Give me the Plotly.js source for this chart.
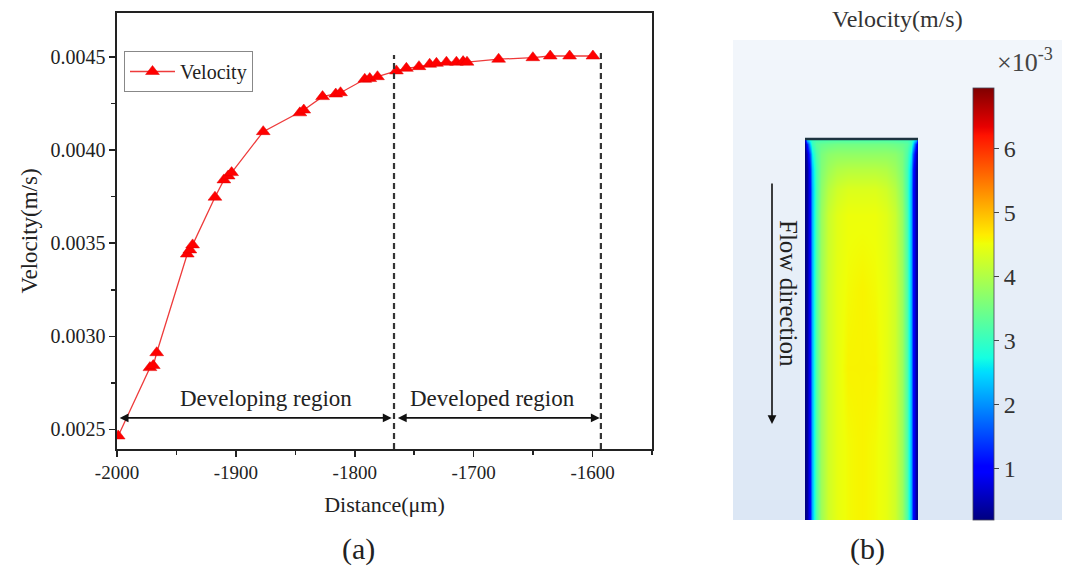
<!DOCTYPE html>
<html>
<head>
<meta charset="utf-8">
<script src="https://cdn.plot.ly/plotly-3.0.1.min.js"></script>
<style>html,body{margin:0;padding:0;background:#fff;}#chart{width:1067px;height:573px;}</style>
</head>
<body>
<div id="chart"></div>
<script>
// ---- Panel (a) data: velocity along the channel ----
const distance = [-1999, -1972.3, -1969.5, -1966.6, -1940.9, -1938.7, -1936.4, -1917.6,
  -1910.1, -1906.5, -1903.6, -1877, -1846.2, -1842.9, -1827.1, -1816, -1812,
  -1791.6, -1787.4, -1780.9, -1765, -1756.6, -1746, -1737, -1731.3, -1722.9,
  -1714.5, -1708.9, -1705.6, -1679, -1650.2, -1635.6, -1619.3, -1599.7];
const velocity = [0.002465, 0.002832, 0.002843, 0.002912, 0.003442, 0.003464, 0.003491, 0.003747,
  0.00384, 0.003861, 0.003879, 0.004099, 0.0042, 0.004215, 0.004287, 0.004301, 0.004308,
  0.00438, 0.004384, 0.004394, 0.004425, 0.004439, 0.004448, 0.004461, 0.004466, 0.004472,
  0.004472, 0.004475, 0.004472, 0.004488, 0.004496, 0.004505, 0.004505, 0.004505];
const seriesName = 'Velocity';
const xTickVals = [-2000, -1900, -1800, -1700, -1600];
const xTickText = ['-2000', '-1900', '-1800', '-1700', '-1600'];
const yTickVals = [0.0025, 0.0030, 0.0035, 0.0040, 0.0045];
const yTickText = ['0.0025', '0.0030', '0.0035', '0.0040', '0.0045'];
const regionBounds = [-2000, -1767, -1593];           // start, developing/developed boundary, end
const regionLabels = ['Developing region', 'Developed region'];
const xTitle = 'Distance(\u03bcm)';
const yTitle = 'Velocity(m/s)';

// ---- Panel (b) data: velocity field in the channel (x10^-3 m/s) ----
const fieldAcross = [0, 0.02, 0.04, 0.065, 0.095, 0.14, 0.2, 0.28, 0.38, 0.5, 0.62, 0.72, 0.8, 0.86, 0.905, 0.935, 0.96, 0.98, 1];
const fieldDepth = [0, 0.012, 0.04, 0.08, 0.13, 0.2, 0.4, 0.6, 0.8, 1];
const fieldVelocity = [
  [0.9, 2.6, 2.9, 3.0, 3.1, 3.1, 3.15, 3.15, 3.15, 3.15, 3.15, 3.15, 3.15, 3.1, 3.1, 3.0, 2.9, 2.6, 0.9],
  [0.3, 1.2, 2.4, 3.0, 3.3, 3.4, 3.45, 3.5, 3.5, 3.5, 3.5, 3.5, 3.45, 3.4, 3.3, 3.0, 2.4, 1.2, 0.3],
  [0.2, 0.6, 1.6, 2.6, 3.2, 3.55, 3.7, 3.75, 3.75, 3.75, 3.75, 3.75, 3.7, 3.55, 3.2, 2.6, 1.6, 0.6, 0.2],
  [0.2, 0.4, 1.2, 2.3, 3.1, 3.6, 3.85, 4.0, 4.05, 4.05, 4.05, 4.0, 3.85, 3.6, 3.1, 2.3, 1.2, 0.4, 0.2],
  [0.2, 0.4, 1.1, 2.2, 3.1, 3.7, 4.05, 4.25, 4.35, 4.35, 4.35, 4.25, 4.05, 3.7, 3.1, 2.2, 1.1, 0.4, 0.2],
  [0.2, 0.4, 1.1, 2.2, 3.15, 3.8, 4.2, 4.4, 4.5, 4.5, 4.5, 4.4, 4.2, 3.8, 3.15, 2.2, 1.1, 0.4, 0.2],
  [0.2, 0.4, 1.1, 2.2, 3.2, 3.85, 4.25, 4.45, 4.55, 4.6, 4.55, 4.45, 4.25, 3.85, 3.2, 2.2, 1.1, 0.4, 0.2],
  [0.2, 0.4, 1.1, 2.2, 3.2, 3.85, 4.25, 4.45, 4.6, 4.6, 4.6, 4.45, 4.25, 3.85, 3.2, 2.2, 1.1, 0.4, 0.2],
  [0.2, 0.4, 1.1, 2.2, 3.2, 3.85, 4.25, 4.45, 4.55, 4.6, 4.55, 4.45, 4.25, 3.85, 3.2, 2.2, 1.1, 0.4, 0.2],
  [0.2, 0.4, 1.1, 2.2, 3.2, 3.85, 4.25, 4.45, 4.55, 4.6, 4.55, 4.45, 4.25, 3.85, 3.2, 2.2, 1.1, 0.4, 0.2]
];
const fieldRange = [0.2, 6.95];
const colorbarTicks = [1, 2, 3, 4, 5, 6];
const fieldTitle = 'Velocity(m/s)';
const fieldScale = '\u00d710<sup>-3</sup>';
const flowLabel = 'Flow direction';
const panelLabels = ['(a)', '(b)'];

// ---- layout helpers (pixel -> paper) ----
const W = 1067, H = 573;
const px = v => v / W;
const py = v => 1 - v / H;
const FONT = 'Liberation Serif, Times New Roman, serif';
const INK = '#222';

const jet = [
  [0, 'rgb(0,0,128)'], [0.11, 'rgb(0,0,255)'], [0.125, 'rgb(0,0,255)'],
  [0.34, 'rgb(0,219,255)'], [0.35, 'rgb(0,230,247)'], [0.375, 'rgb(21,255,226)'],
  [0.64, 'rgb(239,255,8)'], [0.65, 'rgb(247,245,0)'], [0.66, 'rgb(255,236,0)'],
  [0.89, 'rgb(255,19,0)'], [0.91, 'rgb(232,0,0)'], [1, 'rgb(128,0,0)']
];

const traces = [
  {
    type: 'scatter', mode: 'lines+markers', name: seriesName,
    x: distance, y: velocity, xaxis: 'x', yaxis: 'y',
    line: {color: '#ee3b3b', width: 1.3},
    marker: {symbol: 'triangle-up', size: 12, color: '#ff0000', line: {color: '#e00000', width: 0.5}},
    cliponaxis: true
  },
  {
    type: 'heatmap', x: fieldAcross, y: fieldDepth, z: fieldVelocity,
    xaxis: 'x2', yaxis: 'y2', zsmooth: 'best', showlegend: false,
    colorscale: jet, zmin: fieldRange[0], zmax: fieldRange[1],
    colorbar: {
      x: px(973), xanchor: 'left', xpad: 0, ypad: 0,
      y: py(304), yanchor: 'middle',
      thickness: 21, thicknessmode: 'pixels', len: 432, lenmode: 'pixels',
      outlinewidth: 0.8, outlinecolor: '#445',
      tickvals: colorbarTicks, ticks: 'outside', ticklen: 5, tickcolor: '#444',
      tickfont: {family: FONT, size: 24, color: '#333'}
    }
  }
];

// background gradient bands for panel (b)
const shapes = [];
const bgTop = 40, bgBot = 520, nb = 24;
for (let i = 0; i < nb; i++) {
  const t = i / (nb - 1);
  const r = Math.round(242 - t * 22), g = Math.round(246 - t * 15), b = Math.round(251 - t * 6);
  shapes.push({type: 'rect', xref: 'paper', yref: 'paper', layer: 'below',
    x0: px(733), x1: px(1062), y0: py(bgTop + (bgBot - bgTop) * i / nb), y1: py(bgTop + (bgBot - bgTop) * (i + 1) / nb),
    fillcolor: `rgb(${r},${g},${b})`, line: {width: 0}});
}
// channel outline top
shapes.push({type: 'line', xref: 'paper', yref: 'paper', x0: px(805), x1: px(918), y0: py(139), y1: py(139),
  line: {color: '#1d3340', width: 2.5}});
// dashed boundaries
shapes.push({type: 'line', xref: 'x', yref: 'y', x0: regionBounds[1], x1: regionBounds[1], y0: 0.002395, y1: 0.004511,
  line: {color: '#333', width: 2.2, dash: '6px,4px'}});
shapes.push({type: 'line', xref: 'x', yref: 'y', x0: regionBounds[2], x1: regionBounds[2], y0: 0.002395, y1: 0.004527,
  line: {color: '#333', width: 2.2, dash: '6px,4px'}});

const arrowY = 0.002562, labelY = 0.002665;
const C = {xanchor: 'center', yanchor: 'middle', showarrow: false};
const annotations = [
  {xref: 'x', yref: 'y', axref: 'x', ayref: 'y', x: regionBounds[1] - 2, y: arrowY, ax: regionBounds[0] + 1, ay: arrowY,
   text: '', showarrow: true, arrowside: 'end+start', arrowhead: 2, startarrowhead: 2, arrowsize: 1.1, startarrowsize: 1.1,
   arrowwidth: 1.6, arrowcolor: '#111', standoff: 0, startstandoff: 0},
  {xref: 'x', yref: 'y', axref: 'x', ayref: 'y', x: regionBounds[2] - 1, y: arrowY, ax: regionBounds[1] + 2, ay: arrowY,
   text: '', showarrow: true, arrowside: 'end+start', arrowhead: 2, startarrowhead: 2, arrowsize: 1.1, startarrowsize: 1.1,
   arrowwidth: 1.6, arrowcolor: '#111', standoff: 0, startstandoff: 0},
  Object.assign({xref: 'x', yref: 'y', x: (regionBounds[0] + regionBounds[1]) / 2 + 9, y: labelY, text: regionLabels[0],
   font: {family: FONT, size: 23, color: INK}}, C),
  Object.assign({xref: 'x', yref: 'y', x: (regionBounds[1] + regionBounds[2]) / 2 - 4, y: labelY, text: regionLabels[1],
   font: {family: FONT, size: 23, color: INK}}, C),
  Object.assign({xref: 'paper', yref: 'paper', x: px(358), y: py(549), text: panelLabels[0],
   font: {family: FONT, size: 30, color: INK}}, C),
  Object.assign({xref: 'paper', yref: 'paper', x: px(867), y: py(549), text: panelLabels[1],
   font: {family: FONT, size: 30, color: INK}}, C),
  Object.assign({xref: 'paper', yref: 'paper', x: px(897), y: py(19), text: fieldTitle,
   font: {family: FONT, size: 24, color: '#333'}}, C),
  Object.assign({xref: 'paper', yref: 'paper', x: px(1025), y: py(61), text: fieldScale,
   font: {family: FONT, size: 26, color: '#444'}}, C),
  Object.assign({xref: 'paper', yref: 'paper', x: px(789), y: py(293), text: flowLabel, textangle: 90,
   font: {family: FONT, size: 25, color: '#222'}}, C),
  {xref: 'paper', yref: 'paper', x: px(772), y: py(424), ax: 0, ay: -242, text: '', showarrow: true,
   arrowhead: 2, arrowsize: 1.1, arrowwidth: 1.6, arrowcolor: '#111', standoff: 0}
];

const layout = {
  width: W, height: H,
  margin: {l: 0, r: 0, t: 0, b: 0, autoexpand: false},
  paper_bgcolor: '#fff', plot_bgcolor: 'rgba(0,0,0,0)',
  font: {family: FONT, color: INK},
  showlegend: true,
  legend: {x: px(124), y: py(51), xanchor: 'left', yanchor: 'top',
    bgcolor: '#fff', bordercolor: '#888', borderwidth: 1, itemwidth: 45,
    font: {family: FONT, size: 20, color: INK}},
  xaxis: {
    domain: [px(117), px(652)], anchor: 'y',
    range: [-2000, -1550], tickvals: xTickVals, ticktext: xTickText,
    showline: true, mirror: true, linecolor: '#222', linewidth: 1.6,
    ticks: 'outside', ticklen: 6, tickwidth: 1.5, tickcolor: '#222',
    minor: {ticks: 'outside', ticklen: 4, tickwidth: 1.5, tickcolor: '#222', dtick: 50, tick0: -2000},
    showgrid: false, zeroline: false,
    tickfont: {family: FONT, size: 19, color: INK},
    title: {text: xTitle, font: {family: FONT, size: 22, color: INK}, standoff: 14}
  },
  yaxis: {
    domain: [py(449), py(13)], anchor: 'x',
    range: [0.002395, 0.004736], tickvals: yTickVals, ticktext: yTickText,
    showline: true, mirror: true, linecolor: '#222', linewidth: 1.6,
    ticks: 'outside', ticklen: 6, tickwidth: 1.5, tickcolor: '#222',
    minor: {ticks: 'outside', ticklen: 4, tickwidth: 1.5, tickcolor: '#222', dtick: 0.00025, tick0: 0.0025},
    showgrid: false, zeroline: false,
    tickfont: {family: FONT, size: 20, color: INK},
    title: {text: yTitle, font: {family: FONT, size: 23, color: INK}, standoff: 6}
  },
  xaxis2: {domain: [px(805), px(918)], anchor: 'y2', range: [0, 1], visible: false, fixedrange: true},
  yaxis2: {domain: [py(520), py(139)], anchor: 'x2', range: [1, 0], visible: false, fixedrange: true},
  shapes: shapes,
  annotations: annotations
};

Plotly.newPlot('chart', traces, layout, {displayModeBar: false, staticPlot: true});
</script>
</body>
</html>
